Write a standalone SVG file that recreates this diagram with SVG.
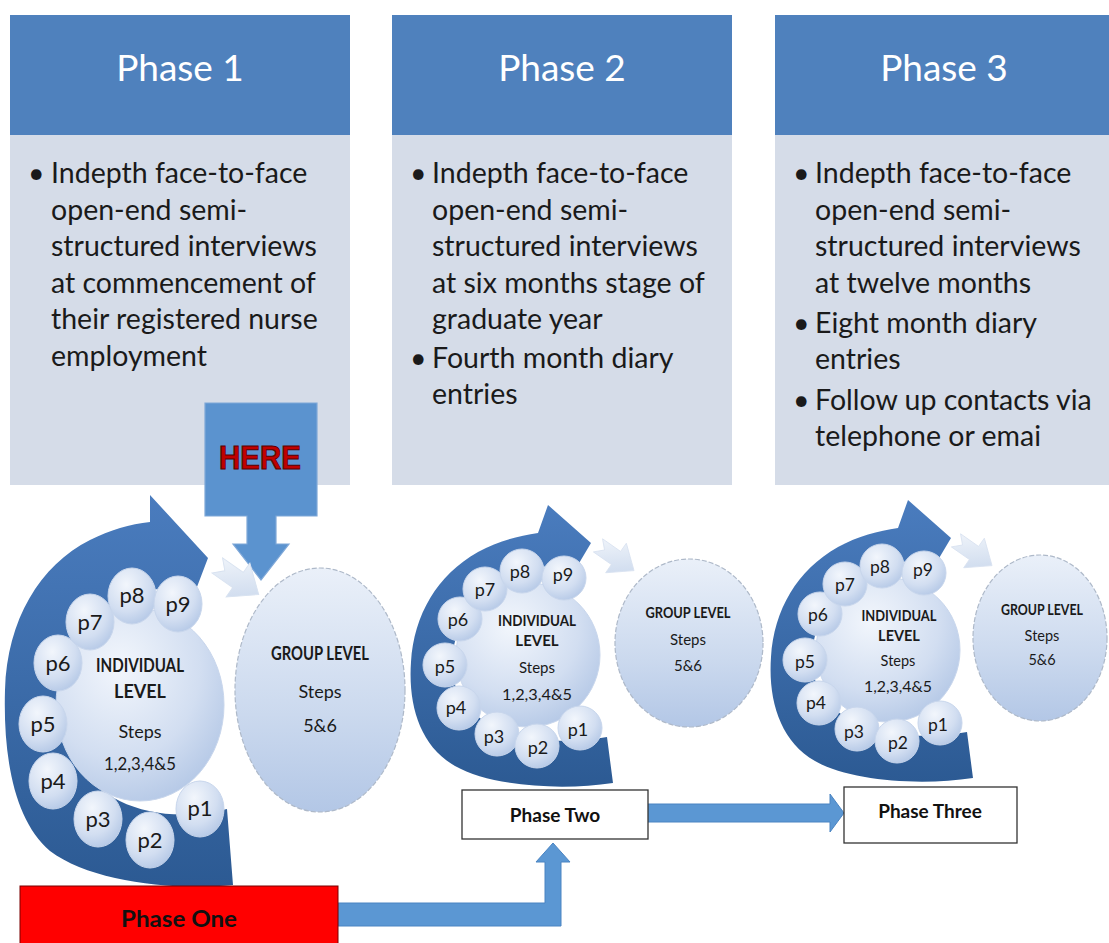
<svg xmlns="http://www.w3.org/2000/svg" width="1109" height="943" viewBox="0 0 1109 943">
<defs>
  <linearGradient id="gDark" x1="0" y1="0" x2="0" y2="1">
    <stop offset="0" stop-color="#4A7CBE"/>
    <stop offset="1" stop-color="#2C5A93"/>
  </linearGradient>
  <radialGradient id="gBubble" cx="0.38" cy="0.3" r="0.8">
    <stop offset="0" stop-color="#F2F6FC"/>
    <stop offset="0.6" stop-color="#D2DEF1"/>
    <stop offset="1" stop-color="#AFC4E4"/>
  </radialGradient>
  <linearGradient id="gGroup" x1="0" y1="0" x2="0" y2="1">
    <stop offset="0" stop-color="#EAF0F9"/>
    <stop offset="0.6" stop-color="#CBD9EE"/>
    <stop offset="1" stop-color="#B3C7E6"/>
  </linearGradient>
  <linearGradient id="gLight" x1="0" y1="0" x2="1" y2="1">
    <stop offset="0" stop-color="#F5F8FC"/>
    <stop offset="1" stop-color="#C6D5EB"/>
  </linearGradient>
  <polygon id="lightArrow" points="-22,-8 0,-8 0,-18 22,0 0,18 0,8 -22,8 -14,0"/>
</defs>
<style>
  .hdr { fill: #4F81BD; }
  .body { fill: #D5DCE8; }
  .hdrText { font-family: Lato, "Open Sans", sans-serif; font-size: 37px; fill: #FFFFFF; text-anchor: middle; }
  .bodyText { font-family: Lato, "Open Sans", sans-serif; font-size: 28.5px; fill: #1A1A1A; }
  .dark { fill: url(#gDark); }
  .bubble { fill: url(#gBubble); stroke: #C8D6EC; stroke-width: 1; }
  .group { fill: url(#gGroup); stroke: #AEB9C9; stroke-width: 1.2; stroke-dasharray: 5 2; }
  .light { fill: url(#gLight); stroke: #D8E2F0; stroke-width: 0.8; }
  .lbl { font-family: Lato, "Open Sans", sans-serif; fill: #1A1A1A; text-anchor: middle; }
  .b { font-weight: bold; }
  .conn { fill: #5B97D3; stroke: #4A84C2; stroke-width: 1; }
  .box { fill: #FFFFFF; stroke: #333333; stroke-width: 1.3; }
  .boxText { font-family: Lato, "Open Sans", sans-serif; font-weight: bold; fill: #111111; text-anchor: middle; }
</style>

<rect x="0" y="0" width="1109" height="943" fill="#FFFFFF"/>

<!-- Phase panels -->
<g id="phase1-panel">
  <rect class="hdr" x="10" y="15" width="340" height="120"/>
  <rect class="body" x="10" y="135" width="340" height="350"/>
  <text class="hdrText" x="180" y="81">Phase 1</text>
  <text class="bodyText">
    <tspan x="28" y="183">•</tspan><tspan x="51" y="183">Indepth face-to-face</tspan>
    <tspan x="51" y="219.5">open-end semi-</tspan>
    <tspan x="51" y="256">structured interviews</tspan>
    <tspan x="51" y="292.5">at commencement of</tspan>
    <tspan x="51" y="329">their registered nurse</tspan>
    <tspan x="51" y="365.5">employment</tspan>
  </text>
</g>

<g id="phase2-panel">
  <rect class="hdr" x="392" y="15" width="340" height="120"/>
  <rect class="body" x="392" y="135" width="340" height="350"/>
  <text class="hdrText" x="562" y="81">Phase 2</text>
  <text class="bodyText">
    <tspan x="410" y="183">•</tspan><tspan x="432" y="183">Indepth face-to-face</tspan>
    <tspan x="432" y="219.5">open-end semi-</tspan>
    <tspan x="432" y="256">structured interviews</tspan>
    <tspan x="432" y="292.5">at six months stage of</tspan>
    <tspan x="432" y="329">graduate year</tspan>
    <tspan x="410" y="368">•</tspan><tspan x="432" y="368">Fourth month diary</tspan>
    <tspan x="432" y="404">entries</tspan>
  </text>
</g>

<g id="phase3-panel">
  <rect class="hdr" x="775" y="15" width="334" height="120"/>
  <rect class="body" x="775" y="135" width="334" height="350"/>
  <text class="hdrText" x="944" y="81">Phase 3</text>
  <text class="bodyText">
    <tspan x="793" y="183">•</tspan><tspan x="815" y="183">Indepth face-to-face</tspan>
    <tspan x="815" y="219.5">open-end semi-</tspan>
    <tspan x="815" y="256">structured interviews</tspan>
    <tspan x="815" y="292.5">at twelve months</tspan>
    <tspan x="793" y="333">•</tspan><tspan x="815" y="333">Eight month diary</tspan>
    <tspan x="815" y="369">entries</tspan>
    <tspan x="793" y="410">•</tspan><tspan x="815" y="410">Follow up contacts via</tspan>
    <tspan x="815" y="446">telephone or emai</tspan>
  </text>
</g>

<!-- HERE marker -->
<g id="here">
  <polygon points="205,403 317,403 317,516 276,516 276,544 289,544 261,580 233,544 247,544 247,516 205,516" fill="#5B93CF" stroke="#7FA8D8" stroke-width="1.2"/>
  <text x="260" y="469" font-family="'Liberation Sans', Arial, sans-serif" font-weight="bold" font-size="33" fill="#C00000" stroke="#5A0000" stroke-width="1" text-anchor="middle" textLength="82" lengthAdjust="spacingAndGlyphs">HERE</text>
</g>

<!-- Phase 1 cluster -->
<g id="phase1-cluster">
  <path class="dark" d="M233,885 C170,891 90,881 50,851 C15,821 3,760 5,690 C7,620 40,565 90,540 C110,530 130,524 150,522 L150,495 L208,558 L192,600 L180,586 C112,590 62,640 62,705 C62,790 140,830 227,809 Z"/>
  <ellipse class="bubble" cx="140" cy="705" rx="84" ry="96"/>
  <ellipse class="bubble" cx="98" cy="819" rx="24" ry="28"/>
  <ellipse class="bubble" cx="53" cy="781" rx="24" ry="28"/>
  <ellipse class="bubble" cx="150" cy="840" rx="24" ry="28"/>
  <ellipse class="bubble" cx="200" cy="809" rx="24" ry="28"/>
  <ellipse class="bubble" cx="43" cy="724" rx="24" ry="28"/>
  <ellipse class="bubble" cx="58" cy="663" rx="24" ry="28"/>
  <ellipse class="bubble" cx="90" cy="622" rx="24" ry="28"/>
  <ellipse class="bubble" cx="132" cy="596" rx="24" ry="28"/>
  <ellipse class="bubble" cx="178" cy="604" rx="24" ry="28"/>
  <g class="lbl" font-size="22">
    <text x="200" y="816">p1</text>
    <text x="150" y="848">p2</text>
    <text x="98" y="827">p3</text>
    <text x="53" y="789">p4</text>
    <text x="43" y="732">p5</text>
    <text x="58" y="671">p6</text>
    <text x="90" y="630">p7</text>
    <text x="132" y="603">p8</text>
    <text x="178" y="612">p9</text>
  </g>
  <g class="lbl" font-size="18">
    <text class="b" x="140" y="672" textLength="88" lengthAdjust="spacingAndGlyphs">INDIVIDUAL</text>
    <text class="b" x="140" y="698">LEVEL</text>
    <text x="140" y="738">Steps</text>
    <text x="140" y="770" textLength="72" lengthAdjust="spacingAndGlyphs">1,2,3,4&amp;5</text>
  </g>
</g>
<g id="phase1-group">
  <use href="#lightArrow" class="light" transform="translate(238,580) rotate(35) scale(1.15)"/>
  <ellipse class="group" cx="320" cy="690" rx="85" ry="122"/>
  <g class="lbl" font-size="18">
    <text class="b" x="320" y="660" textLength="98" lengthAdjust="spacingAndGlyphs">GROUP LEVEL</text>
    <text x="320" y="698">Steps</text>
    <text x="320" y="732">5&amp;6</text>
  </g>
</g>

<!-- Phase 2 cluster -->
<g id="phase2-cluster">
  <path class="dark" d="M613,783 C560,791 490,786 455,766 C420,746 408,705 411,662 C414,615 437,575 478,552 C498,541 518,536 538,533 L548,505 L591,543 L572,575 L560,565 C500,568 455,605 452,662 C450,722 520,752 607,737 Z"/>
  <circle class="bubble" cx="528" cy="655" r="72"/>
  <circle class="bubble" cx="497" cy="734" r="22"/>
  <circle class="bubble" cx="459" cy="708" r="22"/>
  <circle class="bubble" cx="537" cy="746" r="22"/>
  <circle class="bubble" cx="580" cy="728" r="22"/>
  <circle class="bubble" cx="445" cy="665" r="22"/>
  <circle class="bubble" cx="460" cy="619" r="22"/>
  <circle class="bubble" cx="485" cy="589" r="22"/>
  <circle class="bubble" cx="522" cy="571" r="22"/>
  <circle class="bubble" cx="564" cy="578" r="22"/>
  <g class="lbl" font-size="18">
    <text x="578" y="736">p1</text>
    <text x="538" y="754">p2</text>
    <text x="494" y="743">p3</text>
    <text x="456" y="714">p4</text>
    <text x="445" y="673">p5</text>
    <text x="458" y="626">p6</text>
    <text x="485" y="596">p7</text>
    <text x="520" y="578">p8</text>
    <text x="563" y="581">p9</text>
  </g>
  <g class="lbl" font-size="15">
    <text class="b" x="537" y="626" textLength="78" lengthAdjust="spacingAndGlyphs">INDIVIDUAL</text>
    <text class="b" x="537" y="646">LEVEL</text>
    <text x="537" y="673">Steps</text>
    <text x="537" y="700" textLength="70" lengthAdjust="spacingAndGlyphs">1,2,3,4&amp;5</text>
  </g>
</g>
<g id="phase2-group">
  <use href="#lightArrow" class="light" transform="translate(616,558) rotate(35)"/>
  <ellipse class="group" cx="689" cy="643" rx="74" ry="84"/>
  <g class="lbl" font-size="15">
    <text class="b" x="688" y="618" textLength="85" lengthAdjust="spacingAndGlyphs">GROUP LEVEL</text>
    <text x="688" y="645">Steps</text>
    <text x="688" y="671">5&amp;6</text>
  </g>
</g>

<!-- Phase 3 cluster -->
<g id="phase3-cluster">
  <path class="dark" d="M973,778 C920,786 850,781 815,761 C780,741 768,700 771,657 C774,610 797,570 838,547 C858,536 878,531 898,528 L908,500 L951,538 L932,570 L920,560 C860,563 815,600 812,657 C810,717 880,747 967,732 Z"/>
  <circle class="bubble" cx="888" cy="650" r="72"/>
  <circle class="bubble" cx="857" cy="729" r="22"/>
  <circle class="bubble" cx="819" cy="703" r="22"/>
  <circle class="bubble" cx="897" cy="741" r="22"/>
  <circle class="bubble" cx="940" cy="723" r="22"/>
  <circle class="bubble" cx="805" cy="660" r="22"/>
  <circle class="bubble" cx="820" cy="614" r="22"/>
  <circle class="bubble" cx="845" cy="584" r="22"/>
  <circle class="bubble" cx="882" cy="566" r="22"/>
  <circle class="bubble" cx="924" cy="573" r="22"/>
  <g class="lbl" font-size="17.5">
    <text x="938" y="731">p1</text>
    <text x="898" y="749">p2</text>
    <text x="854" y="738">p3</text>
    <text x="816" y="709">p4</text>
    <text x="805" y="668">p5</text>
    <text x="818" y="621">p6</text>
    <text x="845" y="591">p7</text>
    <text x="880" y="573">p8</text>
    <text x="923" y="576">p9</text>
  </g>
  <g class="lbl" font-size="14.5">
    <text class="b" x="899" y="621" textLength="75" lengthAdjust="spacingAndGlyphs">INDIVIDUAL</text>
    <text class="b" x="899" y="641">LEVEL</text>
    <text x="898" y="666">Steps</text>
    <text x="898" y="692" textLength="68" lengthAdjust="spacingAndGlyphs">1,2,3,4&amp;5</text>
  </g>
</g>
<g id="phase3-group">
  <use href="#lightArrow" class="light" transform="translate(974,553) rotate(35)"/>
  <ellipse class="group" cx="1040" cy="638" rx="67" ry="83"/>
  <g class="lbl" font-size="14.5">
    <text class="b" x="1042" y="615" textLength="82" lengthAdjust="spacingAndGlyphs">GROUP LEVEL</text>
    <text x="1042" y="641">Steps</text>
    <text x="1042" y="665">5&amp;6</text>
  </g>
</g>

<!-- Connectors -->
<g id="connectors">
  <path class="conn" d="M338,903 L545,903 L545,862 L536,862 L553,843 L570,862 L561,862 L561,926 L338,926 Z"/>
  <path class="conn" d="M647,804 L830,804 L830,794 L844,813 L830,832 L830,822 L647,822 Z"/>
</g>

<!-- Phase boxes -->
<g id="phase-one-box">
  <rect x="20" y="886" width="318" height="60" fill="#FF0000" stroke="#7A0000" stroke-width="1"/>
  <text class="boxText" x="179" y="927" font-size="23" textLength="116" lengthAdjust="spacingAndGlyphs">Phase One</text>
</g>
<g id="phase-two-box">
  <rect class="box" x="462" y="790" width="186" height="49"/>
  <text class="boxText" x="555" y="822" font-size="19">Phase Two</text>
</g>
<g id="phase-three-box">
  <rect class="box" x="844" y="787" width="173" height="56" stroke="#777777"/>
  <text class="boxText" x="930" y="818" font-size="19">Phase Three</text>
</g>
</svg>
